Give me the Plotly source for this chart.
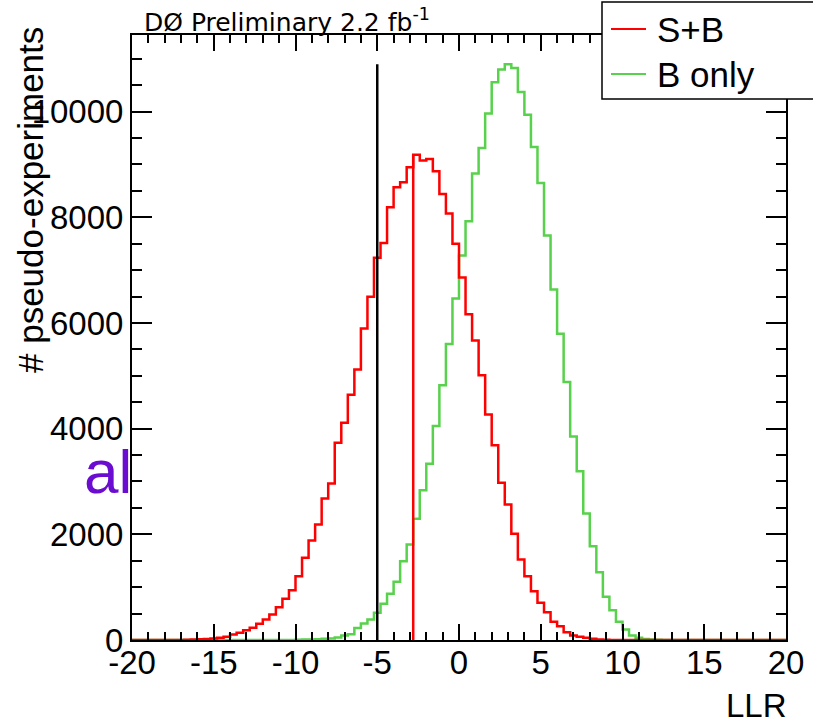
import plotly.graph_objects as go

# ---------------- data ----------------
bin_low = -20.0
bin_width = 0.4

# S+B pseudo-experiment counts per 0.4-wide LLR bin (100 bins, -20..20)
sb_counts = [
    0, 0, 0, 0, 0, 0, 0, 0, 5, 10,
    15, 20, 28, 42, 60, 104, 136, 186, 230, 306,
    388, 482, 621, 779, 943, 1207, 1555, 1883, 2185, 2677,
    2961, 3731, 4110, 4640, 5118, 5894, 6494, 7232, 7515, 8189,
    8568, 8662, 8946, 9186, 9073, 9105, 8871, 8443, 8070, 7497,
    6860, 6165, 5667, 5010, 4267, 3686, 2974, 2564, 2009, 1523,
    1207, 923, 704, 526, 344, 261, 148, 85, 60, 42,
    23, 10, 5, 0, 0, 0, 0, 0, 0, 0,
    0, 0, 0, 0, 0, 0, 0, 0, 0, 0,
    0, 0, 0, 0, 0, 0, 0, 0, 0, 0,
]

# B-only pseudo-experiment counts per bin
b_counts = [
    0, 0, 0, 0, 0, 0, 0, 0, 0, 0,
    0, 0, 0, 0, 0, 0, 0, 0, 0, 0,
    0, 0, 0, 0, 0, 5, 8, 10, 15, 22,
    30, 45, 85, 110, 225, 310, 390, 515, 685, 874,
    1101, 1491, 1807, 2293, 2834, 3334, 4050, 4821, 5604, 6462,
    7275, 7924, 8827, 9313, 9962, 10555, 10795, 10895, 10827, 10373,
    9943, 9330, 8651, 7654, 6632, 5794, 4885, 3850, 3194, 2394,
    1775, 1283, 817, 564, 344, 199, 85, 42, 20, 10,
    5, 0, 0, 0, 0, 0, 0, 0, 0, 0,
    0, 0, 0, 0, 0, 0, 0, 0, 0, 0,
]

llr_observed = -5.0      # black line
llr_sb_median = -2.8     # red line

x_tick_vals = [-20, -15, -10, -5, 0, 5, 10, 15, 20]
x_tick_text = ["-20", "-15", "-10", "-5", "0", "5", "10", "15", "20"]
y_tick_vals = [0, 2000, 4000, 6000, 8000, 10000]
y_tick_text = ["0", "2000", "4000", "6000", "8000", "10000"]

series_names = ["S+B", "B only"]

# ---------------- layout geometry (pixels) ----------------
W, H = 813, 726
L, R, T, B = 132, 786, 35, 640          # plot frame
PW, PH = R - L, B - T


def px(xp):
    return (xp - L) / PW


def py(yp):
    return (B - yp) / PH


FONT = "Liberation Sans, Arial, sans-serif"
RED = "#ff0000"
GREEN = "#58d14c"

edges = [bin_low + i * bin_width for i in range(len(sb_counts) + 1)]


def step_y(counts):
    return list(counts) + [counts[-1]]


fig = go.Figure()
fig.add_trace(go.Scatter(x=edges, y=step_y(b_counts), mode="lines",
                         line=dict(color=GREEN, width=2.5, shape="hv"),
                         name=series_names[1], hoverinfo="skip"))
fig.add_trace(go.Scatter(x=edges, y=step_y(sb_counts), mode="lines",
                         line=dict(color=RED, width=2.5, shape="hv"),
                         name=series_names[0], hoverinfo="skip"))
fig.add_trace(go.Scatter(x=[llr_sb_median, llr_sb_median], y=[0, max(sb_counts)],
                         mode="lines", line=dict(color=RED, width=2.5),
                         showlegend=False, hoverinfo="skip"))
fig.add_trace(go.Scatter(x=[llr_observed, llr_observed], y=[0, max(b_counts)],
                         mode="lines", line=dict(color="black", width=2.5),
                         showlegend=False, hoverinfo="skip"))

axis_common = dict(
    showline=True, linecolor="black", linewidth=2, mirror="allticks",
    ticks="inside", tickcolor="black", tickwidth=1.5,
    showgrid=False, zeroline=False,
    tickfont=dict(family=FONT, size=33, color="black"),
)

fig.update_xaxes(range=[-20, 20], tickvals=x_tick_vals, ticktext=x_tick_text,
                 ticklen=16, ticklabelstandoff=-8,
                 minor=dict(dtick=1, tick0=-20, ticks="inside", ticklen=8,
                            tickcolor="black", tickwidth=1.5, showgrid=False),
                 **axis_common)
fig.update_yaxes(range=[0, 11450], tickvals=y_tick_vals, ticktext=y_tick_text,
                 ticklen=20,
                 minor=dict(dtick=500, tick0=0, ticks="inside", ticklen=10,
                            tickcolor="black", tickwidth=1.5, showgrid=False),
                 **axis_common)

shapes = []
annotations = []

# legend box (extends past the right edge of the picture)
shapes.append(dict(type="rect", xref="paper", yref="paper",
                   x0=px(602), x1=px(850), y0=py(99), y1=py(2),
                   line=dict(color="black", width=1.5), fillcolor="white",
                   layer="above"))
leg_rows = [(series_names[0], RED, 29), (series_names[1], GREEN, 74)]
for name, col, yc in leg_rows:
    shapes.append(dict(type="line", xref="paper", yref="paper",
                       x0=px(611), x1=px(646), y0=py(yc), y1=py(yc),
                       line=dict(color=col, width=2), layer="above"))
    annotations.append(dict(text=name, xref="paper", yref="paper",
                            x=px(655), y=py(yc), xanchor="left", yanchor="middle",
                            showarrow=False,
                            font=dict(family=FONT, size=35, color="black")))

# title
annotations.append(dict(text="DØ Preliminary 2.2 fb<sup>-1</sup>", xref="paper", yref="paper",
                        x=px(142), y=py(20), xanchor="left", yanchor="middle",
                        showarrow=False,
                        font=dict(family="DejaVu Sans, sans-serif", size=25, color="black")))
# y axis title
annotations.append(dict(text="# pseudo-experiments", xref="paper", yref="paper",
                        x=px(30), y=py(25), xanchor="center", yanchor="top",
                        textangle=-90, showarrow=False,
                        font=dict(family=FONT, size=35, color="black")))
# x axis title
annotations.append(dict(text="LLR", xref="paper", yref="paper",
                        x=px(789), y=py(705), xanchor="right", yanchor="middle",
                        showarrow=False, font=dict(family=FONT, size=33, color="black")))
# leftover purple slide text
annotations.append(dict(text="al", xref="paper", yref="paper",
                        x=px(134), y=py(472), xanchor="right", yanchor="middle",
                        showarrow=False, font=dict(family=FONT, size=62, color="#6a0dd0")))

fig.update_layout(
    width=W, height=H,
    margin=dict(l=L, r=W - R, t=T, b=H - B, pad=0, autoexpand=False),
    paper_bgcolor="white", plot_bgcolor="white",
    showlegend=False,
    shapes=shapes, annotations=annotations,
    font=dict(family=FONT, color="black"),
)

fig.write_html(
    "out.html",
    config={"displayModeBar": False},
    post_script="document.body.style.margin='0px'; document.body.style.overflow='hidden';",
)
